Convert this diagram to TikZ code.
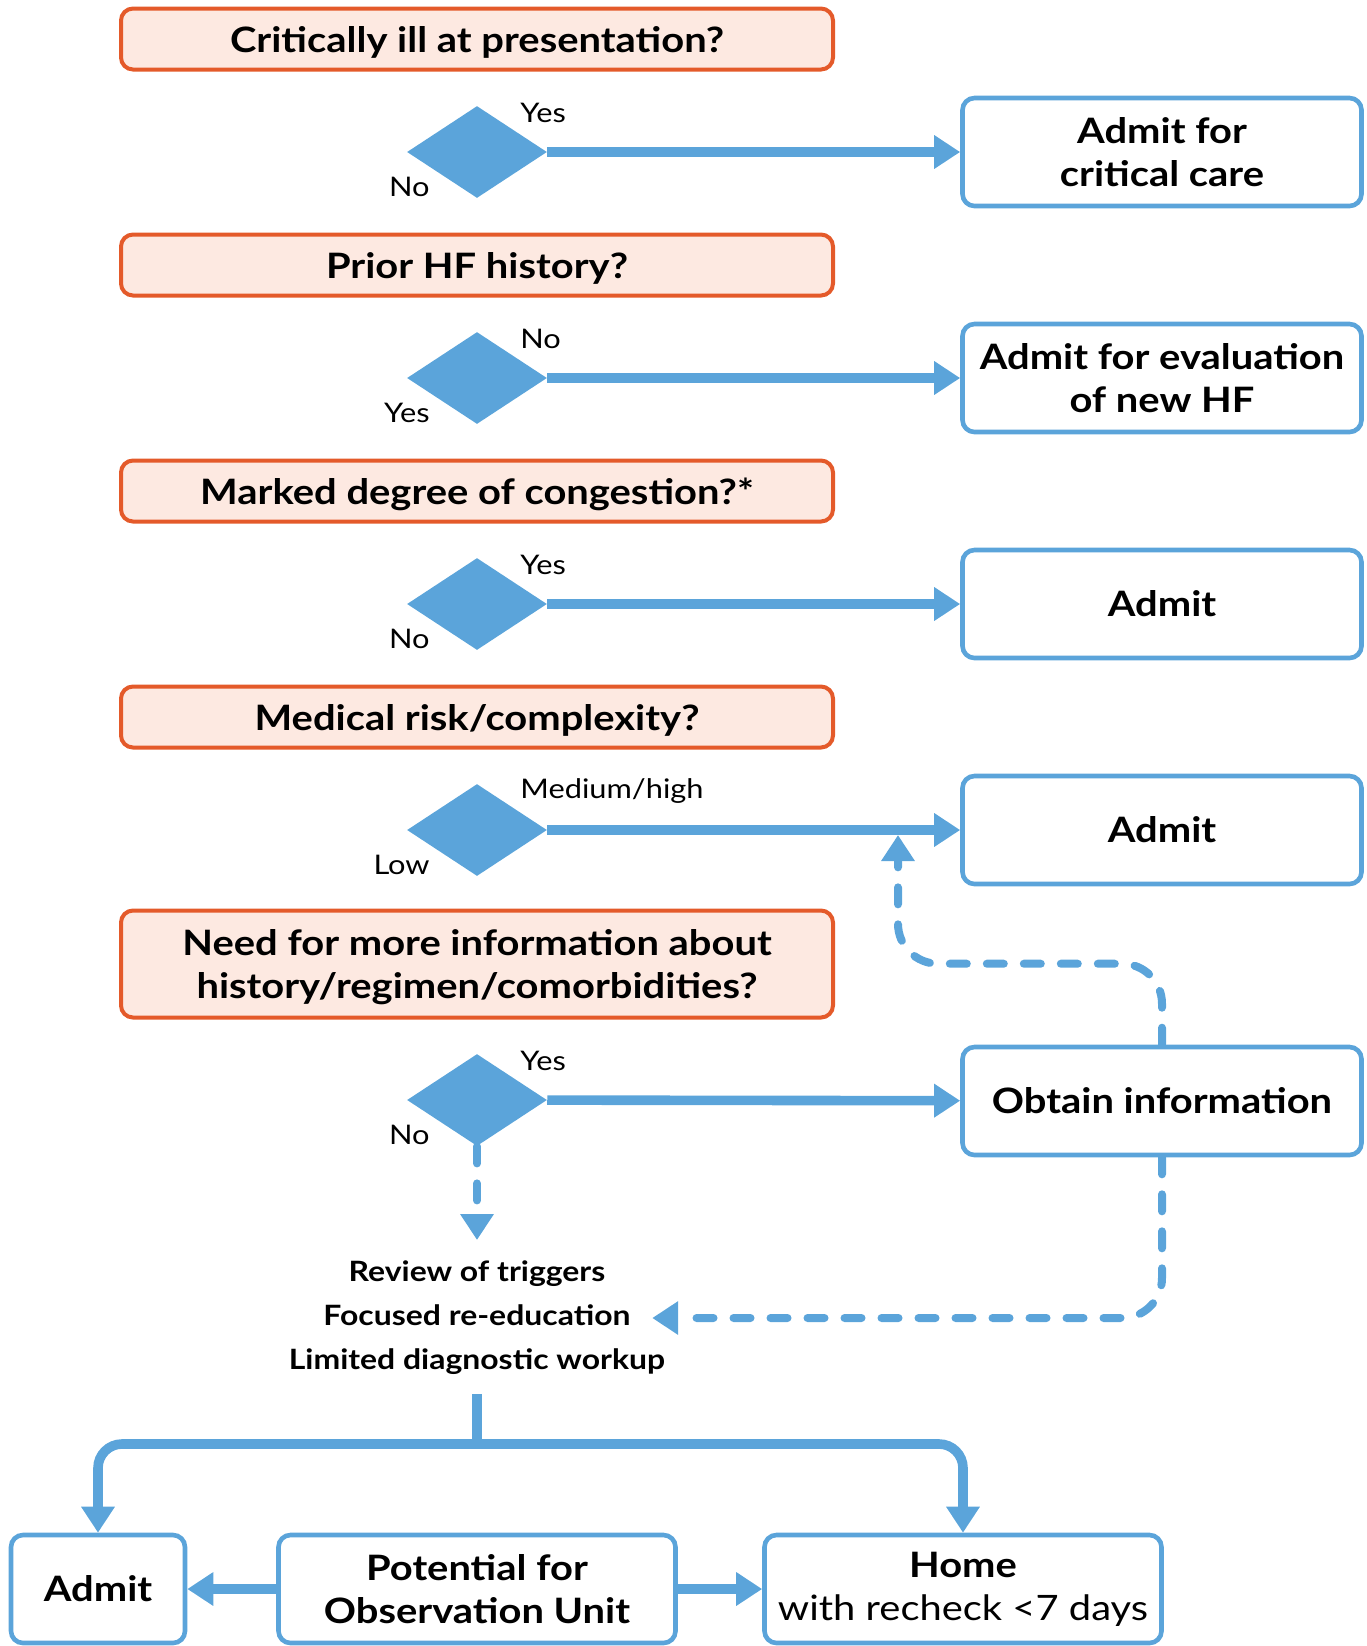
\documentclass[tikz,border=0pt]{standalone}
\usepackage{fontspec}
\setmainfont{Lato}[FakeStretch=1.14]
\usepackage{xcolor}
\usetikzlibrary{positioning,shapes,arrows.meta}

\definecolor{hfblue}{RGB}{91,164,218}
\definecolor{hforange}{RGB}{228,90,42}
\definecolor{hfpeach}{RGB}{253,233,225}

\newcommand\qfont{\fontsize{17.5}{21.5}\selectfont\bfseries}
\newcommand\lblfont{\fontsize{13.5}{15}\selectfont}
\newcommand\listfont{\fontsize{14}{22}\selectfont\bfseries}

\begin{document}
\begin{tikzpicture}[x=0.5pt,y=-0.5pt,>={Triangle[length=13pt,width=16pt]},
                    font=\qfont]
  \tikzstyle{question}=[draw=hforange,fill=hfpeach,line width=2pt,rounded corners=6pt,
                        minimum width=356pt,minimum height=30.5pt,align=center,text depth=0pt]
  \tikzstyle{decision}=[diamond,fill=hfblue,minimum width=70pt,minimum height=46pt,inner sep=0pt]
  \tikzstyle{outcome}=[draw=hfblue,fill=white,line width=2.3pt,rounded corners=6pt,
                       minimum width=199.5pt,minimum height=54pt,align=center]
  \tikzstyle{answer}=[font=\lblfont,inner sep=0pt]
  \tikzstyle{flow}=[draw=hfblue,line width=4.8pt,->]
  \tikzstyle{backflow}=[flow,line width=4pt,line cap=round,dash pattern=on 8.5pt off 10pt,
                        rounded corners=20pt]

  \useasboundingbox (0,0) rectangle (1367,1646);

  % questions and decisions
  \node[question]  (Q1) at (477,39)  {Critically ill at presentation?};
  \node[decision]  (D1) at (477,152) {};
  \node[outcome]   (A1) at (1162,152) {Admit for\\critical care};
  \node[answer,anchor=west] (Y1) at (520,113) {Yes};
  \node[answer,anchor=east] (N1) at (430,187) {No};

  \node[question]  (Q2) at (477,265) {Prior HF history?};
  \node[decision]  (D2) at (477,378) {};
  \node[outcome]   (A2) at (1162,378) {Admit for evaluation\\of new HF};
  \node[answer,anchor=west] (N2) at (520,339) {No};
  \node[answer,anchor=east] (Y2) at (430,413) {Yes};

  \node[question]  (Q3) at (477,491) {Marked degree of congestion?*};
  \node[decision]  (D3) at (477,604) {};
  \node[outcome]   (A3) at (1162,604) {Admit};
  \node[answer,anchor=west] (Y3) at (520,565) {Yes};
  \node[answer,anchor=east] (N3) at (430,639) {No};

  \node[question]  (Q4) at (477,717) {Medical risk/complexity?};
  \node[decision]  (D4) at (477,830) {};
  \node[outcome]   (A4) at (1162,830) {Admit};
  \node[answer,anchor=west] (M4) at (520,791) {Medium/high};
  \node[answer,anchor=east] (L4) at (430,865) {Low};
  \coordinate (merge) at (898,830);

  \node[question,minimum height=53.5pt] (Q5) at (477,964)
       {Need for more information about\\history/regimen/comorbidities?};
  \node[decision]  (D5) at (477,1100) {};
  \node[outcome]   (O5) at (1162,1101) {Obtain information};
  \node[answer,anchor=west] (Y5) at (520,1061) {Yes};
  \node[answer,anchor=east] (N5) at (430,1135) {No};

  % outpatient work-up
  \node[align=center,font=\listfont] (W) at (477,1318)
       {Review of triggers\\Focused re-education\\Limited diagnostic workup};
  \coordinate (split) at (477,1444);

  \node[outcome,minimum width=87pt]  (B1) at (98,1589)  {Admit};
  \node[outcome,minimum width=198.5pt] (B2) at (477,1589) {Potential for\\Observation Unit};
  \node[outcome,minimum width=198.5pt] (B3) at (963,1589)
       {Home\\{\mdseries with recheck <7 days}};

  \path (D1) edge[flow] (A1)
        (D2) edge[flow] (A2)
        (D3) edge[flow] (A3)
        (D4) edge[flow] (A4)
        (D5) edge[flow] (O5)
        (B2) edge[flow] (B1)
             edge[flow] (B3);

  \draw[backflow,shorten >=7pt] (D5.south) -- (W.north);
  \draw[backflow,shorten >=-10pt] (O5.south) |- (W.east);
  \draw[backflow,shorten >=2.5pt] (O5.north) -- ++(0,-81) -| (merge);
  \draw[flow,-,shorten <=6pt] (W.south) -- (split);
  \draw[flow,rounded corners=12pt] (split) -| (B1.north);
  \draw[flow,rounded corners=12pt] (split) -| (B3.north);
\end{tikzpicture}
\end{document}
